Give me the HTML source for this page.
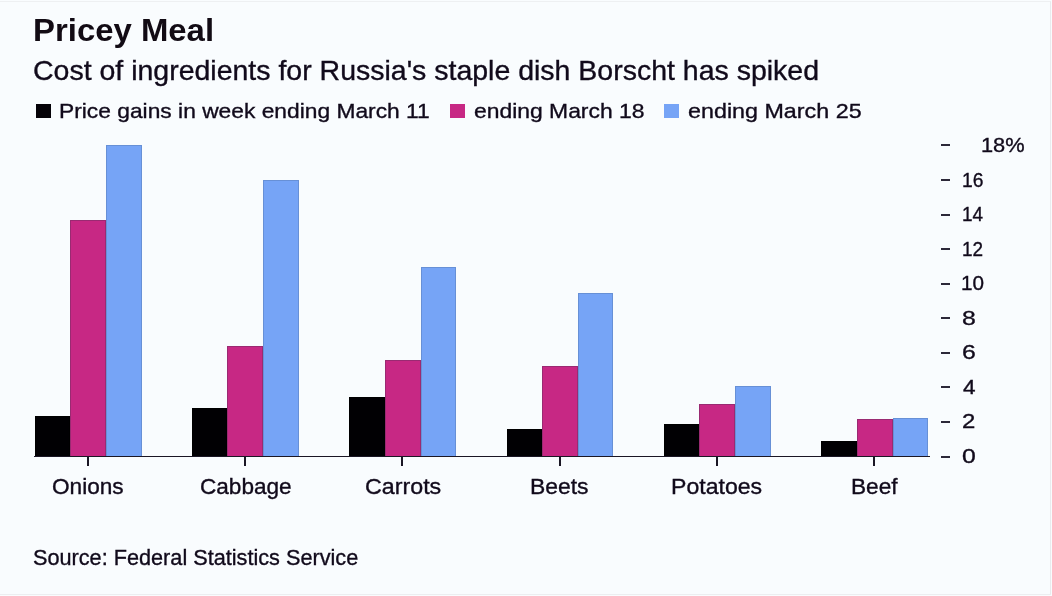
<!DOCTYPE html>
<html><head><meta charset="utf-8"><style>
html,body{margin:0;padding:0;}
body{width:1052px;height:596px;position:relative;overflow:hidden;background:#f9fcfe;font-family:"Liberation Sans",sans-serif;color:#110a1b;}
.frame{position:absolute;left:0;top:1px;width:1050px;height:592px;border-top:1px solid #eef0f2;border-right:1px solid #e9ebee;border-bottom:1px solid #eceef0;}
.t{position:absolute;white-space:nowrap;transform-origin:0 0;-webkit-text-stroke:0.35px currentColor;filter:blur(0.25px);}
.sq{position:absolute;top:103.6px;width:14.8px;height:14.6px;}
.bar{position:absolute;box-sizing:border-box;border:1px solid;border-bottom:none;}
.axis{position:absolute;left:34px;top:455.6px;width:895.5px;height:1.8px;background:#1a1624;}
.xt{position:absolute;top:456.5px;width:2px;height:9px;background:#1a1624;}
.yt{position:absolute;left:941px;width:8.6px;height:2px;background:#2c2838;}
</style></head><body>
<div class="frame"></div>
<div class="t " style="left:33.44px;top:14.1px;font-size:32px;line-height:32px;transform:scaleX(1.0279);font-weight:bold;-webkit-text-stroke:0;color:#120b14">Pricey Meal</div>
<div class="t " style="left:33.28px;top:57.1px;font-size:28px;line-height:28px;transform:scaleX(1.0174)">Cost of ingredients for Russia's staple dish Borscht has spiked</div>
<div class="sq" style="left:36.2px;background:#050208"></div>
<div class="t " style="left:59.33px;top:100.0px;font-size:21px;line-height:21px;transform:scaleX(1.0853)">Price gains in week ending March 11</div>
<div class="sq" style="left:450.2px;background:#c72884"></div>
<div class="t " style="left:473.91px;top:100.0px;font-size:21px;line-height:21px;transform:scaleX(1.0897)">ending March 18</div>
<div class="sq" style="left:664.4px;background:#76a4f6"></div>
<div class="t " style="left:688.09px;top:100.0px;font-size:21px;line-height:21px;transform:scaleX(1.1097)">ending March 25</div>
<div class="bar" style="left:34.5px;top:416.0px;width:35.5px;height:40.0px;background:#010003;border-color:#000"></div><div class="bar" style="left:70.0px;top:219.8px;width:36.0px;height:236.2px;background:#c72884;border-color:#9a2a72"></div><div class="bar" style="left:106.0px;top:145.4px;width:35.5px;height:310.6px;background:#76a4f6;border-color:#6790d6"></div><div class="xt" style="left:86.5px"></div><div class="bar" style="left:191.9px;top:408.0px;width:35.4px;height:48.0px;background:#010003;border-color:#000"></div><div class="bar" style="left:227.3px;top:346.0px;width:36.0px;height:110.0px;background:#c72884;border-color:#9a2a72"></div><div class="bar" style="left:263.3px;top:179.6px;width:35.5px;height:276.4px;background:#76a4f6;border-color:#6790d6"></div><div class="xt" style="left:243.9px"></div><div class="bar" style="left:349.2px;top:397.2px;width:35.4px;height:58.8px;background:#010003;border-color:#000"></div><div class="bar" style="left:384.6px;top:360.0px;width:36.0px;height:96.0px;background:#c72884;border-color:#9a2a72"></div><div class="bar" style="left:420.6px;top:267.1px;width:35.5px;height:188.9px;background:#76a4f6;border-color:#6790d6"></div><div class="xt" style="left:401.2px"></div><div class="bar" style="left:506.5px;top:428.5px;width:35.5px;height:27.5px;background:#010003;border-color:#000"></div><div class="bar" style="left:541.9px;top:366.0px;width:36.0px;height:90.0px;background:#c72884;border-color:#9a2a72"></div><div class="bar" style="left:577.9px;top:293.1px;width:35.5px;height:162.9px;background:#76a4f6;border-color:#6790d6"></div><div class="xt" style="left:558.5px"></div><div class="bar" style="left:663.8px;top:424.0px;width:35.5px;height:32.0px;background:#010003;border-color:#000"></div><div class="bar" style="left:699.2px;top:403.7px;width:36.0px;height:52.3px;background:#c72884;border-color:#9a2a72"></div><div class="bar" style="left:735.2px;top:385.5px;width:35.5px;height:70.5px;background:#76a4f6;border-color:#6790d6"></div><div class="xt" style="left:715.8px"></div><div class="bar" style="left:821.0px;top:441.0px;width:35.5px;height:15.0px;background:#010003;border-color:#000"></div><div class="bar" style="left:856.5px;top:419.2px;width:36.0px;height:36.8px;background:#c72884;border-color:#9a2a72"></div><div class="bar" style="left:892.5px;top:418.4px;width:35.5px;height:37.6px;background:#76a4f6;border-color:#6790d6"></div><div class="xt" style="left:873.0px"></div>
<div class="axis"></div>
<div class="t " style="left:51.77px;top:476.0px;font-size:22px;line-height:22px;transform:scaleX(1.0279)">Onions</div><div class="t " style="left:199.67px;top:476.0px;font-size:22px;line-height:22px;transform:scaleX(1.0264)">Cabbage</div><div class="t " style="left:364.54px;top:476.2px;font-size:22px;line-height:22px;transform:scaleX(1.0571)">Carrots</div><div class="t " style="left:530.12px;top:475.8px;font-size:22px;line-height:22px;transform:scaleX(1.0407)">Beets</div><div class="t " style="left:671.4px;top:476.0px;font-size:22px;line-height:22px;transform:scaleX(1.0488)">Potatoes</div><div class="t " style="left:850.54px;top:476.2px;font-size:22px;line-height:22px;transform:scaleX(1.0295)">Beef</div>
<div class="yt" style="top:456px"></div><div class="t " style="left:962.19px;top:446.0px;font-size:20.5px;line-height:20.5px;transform:scaleX(1.21)">0</div><div class="yt" style="top:421px"></div><div class="t " style="left:962.03px;top:411.44px;font-size:20.5px;line-height:20.5px;transform:scaleX(1.1667)">2</div><div class="yt" style="top:386px"></div><div class="t " style="left:963.2px;top:376.88px;font-size:20.5px;line-height:20.5px;transform:scaleX(1.1)">4</div><div class="yt" style="top:352px"></div><div class="t " style="left:961.99px;top:342.32px;font-size:20.5px;line-height:20.5px;transform:scaleX(1.21)">6</div><div class="yt" style="top:317px"></div><div class="t " style="left:961.99px;top:307.76px;font-size:20.5px;line-height:20.5px;transform:scaleX(1.21)">8</div><div class="yt" style="top:283px"></div><div class="t " style="left:961.38px;top:273.2px;font-size:20.5px;line-height:20.5px;transform:scaleX(1.01)">10</div><div class="yt" style="top:248px"></div><div class="t " style="left:962.35px;top:238.64px;font-size:20.5px;line-height:20.5px;transform:scaleX(0.925)">12</div><div class="yt" style="top:214px"></div><div class="t " style="left:962.35px;top:204.08px;font-size:20.5px;line-height:20.5px;transform:scaleX(0.925)">14</div><div class="yt" style="top:179px"></div><div class="t " style="left:962.32px;top:169.52px;font-size:20.5px;line-height:20.5px;transform:scaleX(0.94)">16</div><div class="yt" style="top:144px"></div><div class="t " style="left:981.37px;top:134.96px;font-size:20.5px;line-height:20.5px;transform:scaleX(1.0632)">18%</div>
<div class="t " style="left:33.11px;top:546.5px;font-size:22px;line-height:22px;transform:scaleX(0.9851)">Source: Federal Statistics Service</div>
</body></html>
